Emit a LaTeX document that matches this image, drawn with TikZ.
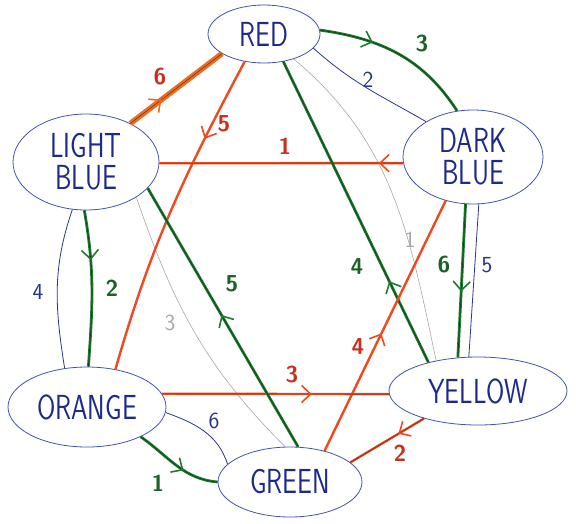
\documentclass[tikz,border=0pt]{standalone}
\usetikzlibrary{shapes.geometric,arrows.meta,decorations.markings}
\definecolor{nodeblue}{HTML}{4352B0}
\definecolor{textblue}{HTML}{1C2A8C}
\definecolor{pengreen}{HTML}{1F7A2E}
\definecolor{penred}{HTML}{EE4A1E}
\definecolor{labred}{HTML}{C8301A}
\definecolor{penorange}{HTML}{F06A1E}
\definecolor{penblue}{HTML}{2A3590}
\definecolor{pengray}{HTML}{A8A8A8}
\tikzset{
  nd/.style={ellipse, draw=nodeblue, line width=0.8pt, inner sep=0pt, align=center,
    text=textblue, font=\sffamily\fontsize{24}{34}\selectfont},
  arrowat/.style={postaction={decorate,decoration={markings,
    mark=at position #1 with {\arrow{Straight Barb[length=9pt,width=17pt,line width=1.6pt]}}}}},
  greenedge/.style={draw=pengreen, line width=2.8pt, postaction={draw=black!50!pengreen, line width=0.6pt}},
  rededge/.style={draw=penred, line width=2.4pt},
  inked/.style={postaction={draw=black!80, line width=0.4pt}},
  orangeedge/.style={draw=penorange, line width=5.5pt},
  blueedge/.style={draw=penblue, line width=0.8pt},
  grayedge/.style={draw=pengray, line width=0.6pt},
  glab/.style={text=pengreen!80!black, font=\sffamily\bfseries\fontsize{23}{24}\selectfont, inner sep=0pt},
  rlab/.style={text=labred, font=\sffamily\bfseries\fontsize{23}{24}\selectfont, inner sep=0pt},
  blab/.style={text=penblue, font=\sffamily\fontsize{23}{24}\selectfont, inner sep=0pt},
  graylab/.style={text=pengray, font=\sffamily\fontsize{23}{24}\selectfont, inner sep=0pt},
}
\newcommand{\hw}[1]{\scalebox{1.1}[1.45]{#1}}
\begin{document}
\begin{tikzpicture}[x=1pt,y=1pt]
\useasboundingbox[fill=white] (0,0) rectangle (576,-523);
% nodes
\node[nd, minimum width=112pt, minimum height=58pt] (red) at (264,-34) {\hw{RED}};
\node[nd, minimum width=146pt, minimum height=96pt] (lb) at (86,-162) {\hw{LIGHT}\\[-2pt]\hw{BLUE}};
\node[nd, minimum width=140pt, minimum height=94pt] (db) at (473,-157) {\hw{DARK}\\[-2pt]\hw{BLUE}};
\node[nd, minimum width=158pt, minimum height=80pt] (or) at (87,-407) {\hw{ORANGE}};
\node[nd, minimum width=144pt, minimum height=70pt] (gr) at (290,-482) {\hw{GREEN}};
\node[nd, minimum width=178pt, minimum height=68pt] (ye) at (478,-391) {\hw{YELLOW}};
% thin edges
\draw[grayedge] (red.320) to[out=-40,in=102] (ye.144);
\draw[grayedge] (lb.325) to[out=-71,in=135] (gr.98);
\draw[blueedge] (red.344) to[out=-42,in=150] (db.143);
\draw[blueedge] (db.277) -- (ye.105);
\draw[blueedge] (or.356) to[out=-20,in=108] (gr.164);
\draw[blueedge] (lb.254) to[out=-109,in=99] (or.120);
% coloured edges
\draw[orangeedge, inked, arrowat=0.34] (lb.41) -- (red.205);
\draw[rededge, arrowat=0.26] (red.235) to[out=-118,in=74] (or.53);
\draw[rededge, inked, arrowat=0.1] (db.185) -- (lb.-1);
\draw[greenedge, arrowat=0.33] (red.4) to[out=-8,in=123] (db.109);
\draw[greenedge, arrowat=0.27] (ye.150) -- (red.305);
\draw[greenedge, arrowat=0.57] (db.261) -- (ye.121);
\draw[rededge, arrowat=0.47] (gr.42) -- (db.238);
\draw[rededge, inked, arrowat=0.66] (or.10) -- (ye.182);
\draw[rededge, inked, arrowat=0.35] (ye.207) -- (gr.18);
\draw[greenedge, arrowat=0.6] (or.331) to[out=-35,in=175] (gr.180);
\draw[greenedge, arrowat=0.51] (gr.77) -- (lb.337);
\draw[greenedge, arrowat=0.32] (lb.268) to[out=-80,in=86] (or.88);
% labels
\node[rlab] (l6a) at (160,-77) {6};
\node[rlab] (l5a) at (224,-124) {5};
\node[rlab] (l1a) at (285,-146) {1};
\node[glab] (l3a) at (422,-44) {3};
\node[blab] (l2a) at (368,-80) {2};
\node[graylab] (l1b) at (410,-240) {1};
\node[glab] (l4a) at (357,-267) {4};
\node[glab] (l6b) at (444,-265) {6};
\node[blab] (l5b) at (487,-265) {5};
\node[rlab] (l4b) at (358,-347) {4};
\node[rlab] (l3b) at (292,-375) {3};
\node[rlab] (l2b) at (400,-453) {2};
\node[glab] (l1c) at (158,-483) {1};
\node[blab] (l6c) at (214,-421) {6};
\node[glab] (l5c) at (232,-284) {5};
\node[glab] (l2c) at (112,-288) {2};
\node[blab] (l4c) at (38,-292) {4};
\node[graylab] (l3c) at (170,-323) {3};
\end{tikzpicture}
\end{document}
